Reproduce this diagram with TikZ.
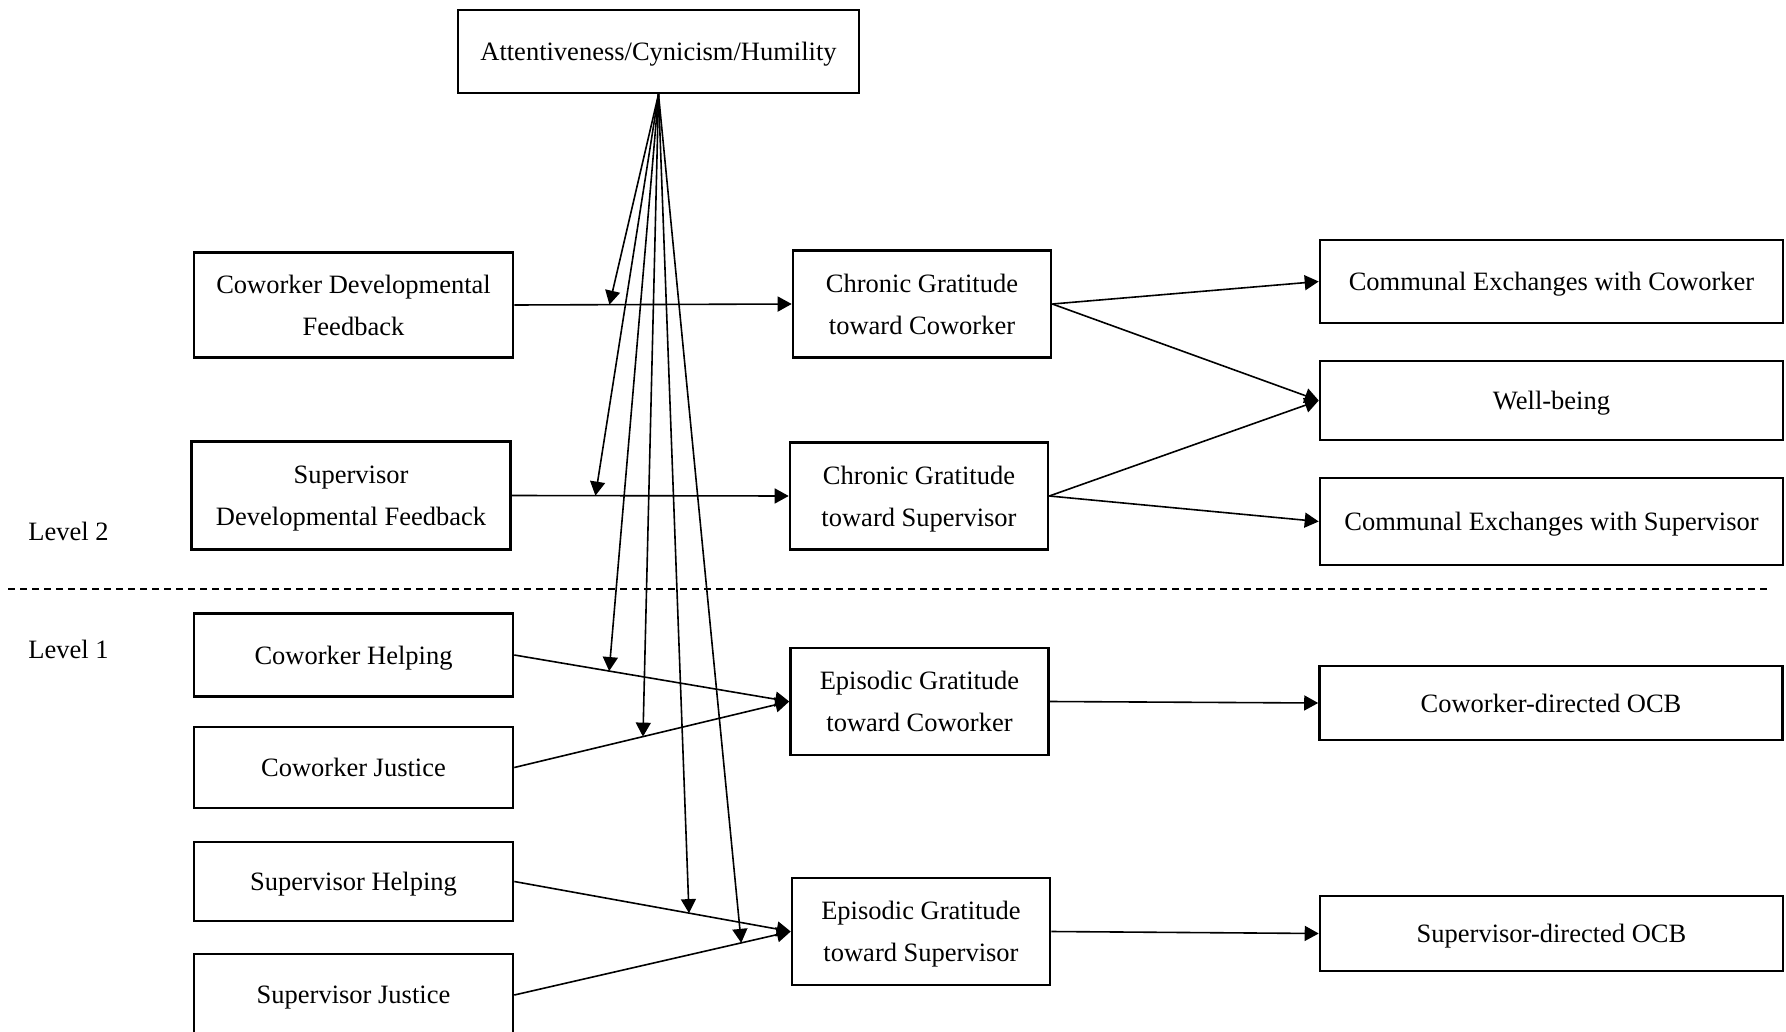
\documentclass[tikz,border=0pt]{standalone}
\usepackage{fontspec}
\setmainfont{Liberation Serif}
\usetikzlibrary{arrows.meta}
\begin{document}
\begin{tikzpicture}[x=0.5pt,y=-0.5pt,>={Triangle[length=7pt,width=7.5pt]}]
  \tikzstyle{every node}=[font=\fontsize{13.25}{21}\selectfont,align=center,inner sep=0pt,text depth=0pt]
  \tikzstyle{box}=[draw,line width=1.3pt]
  \tikzstyle{lbox}=[box,minimum width=159.5pt]
  \tikzstyle{mbox}=[box,minimum width=129pt,minimum height=53.5pt]
  \tikzstyle{rbox}=[box,minimum width=231.5pt]
  \tikzstyle{arr}=[->,line width=0.8pt]
  \useasboundingbox (0,0) rectangle (1786,1032);
  \node[box,minimum width=200.5pt,minimum height=41.5pt] (mod) at (658.5,51.5) {Attentiveness/Cynicism/Humility};
  \node[lbox,minimum height=52.5pt] (cdf) at (353.5,305) {Coworker Developmental\\Feedback};
  \node[lbox,minimum height=54pt] (sdf) at (351,495.5) {Supervisor\\Developmental Feedback};
  \node[lbox,minimum height=41.5pt] (ch) at (353.5,655) {Coworker Helping};
  \node[lbox,minimum height=40.5pt] (cj) at (353.5,767.5) {Coworker Justice};
  \node[lbox,minimum height=39.5pt] (sh) at (353.5,881.5) {Supervisor Helping};
  \node[lbox,minimum height=41pt] (sj) at (353.5,995) {Supervisor Justice};
  \node[mbox] (cgc) at (922,304) {Chronic Gratitude\\toward Coworker};
  \node[mbox] (cgs) at (919,496) {Chronic Gratitude\\toward Supervisor};
  \node[mbox] (egc) at (919.5,701.5) {Episodic Gratitude\\toward Coworker};
  \node[mbox] (egs) at (921,931.5) {Episodic Gratitude\\toward Supervisor};
  \node[rbox,minimum height=41.5pt] (cec) at (1551.5,281.5) {Communal Exchanges with Coworker};
  \node[rbox,minimum height=39.5pt] (wb) at (1551.5,400.5) {Well-being};
  \node[rbox,minimum height=43.5pt] (ces) at (1551.5,521.5) {Communal Exchanges with Supervisor};
  \node[rbox,minimum height=37pt] (cocb) at (1551,703) {Coworker-directed OCB};
  \node[rbox,minimum height=37.5pt] (socb) at (1551.5,933.5) {Supervisor-directed OCB};
  \node[anchor=west] (lv2) at (28,531) {Level 2};
  \node[anchor=west] (lv1) at (28,649) {Level 1};
  \draw[line width=0.6pt,dash pattern=on 3.5pt off 2.5pt] (8,589) -- (1771,589);
  \draw[arr] (cdf.east) -- coordinate[pos=0.343] (t1) (cgc.west);
  \draw[arr] (sdf.east) -- coordinate[pos=0.302] (t2) (cgs.west);
  \draw[arr] (ch.east) -- coordinate[pos=0.345] (t3) (egc.west);
  \draw[arr] (cj.east) -- coordinate[pos=0.468] (t4) (egc.west);
  \draw[arr] (sh.east) -- coordinate[pos=0.632] (t5) (egs.west);
  \draw[arr] (sj.east) -- coordinate[pos=0.821] (t6) (egs.west);
  \draw[arr] (cgc.east) -- (cec.west);
  \draw[arr] (cgc.east) -- (wb.west);
  \draw[arr] (cgs.east) -- (wb.west);
  \draw[arr] (cgs.east) -- (ces.west);
  \draw[arr] (egc.east) -- (cocb.west);
  \draw[arr] (egs.east) -- (socb.west);
  \foreach \t in {t1,t2,t3,t4,t5,t6}
    \draw[arr] (mod.south) -- (\t);
\end{tikzpicture}
\end{document}
